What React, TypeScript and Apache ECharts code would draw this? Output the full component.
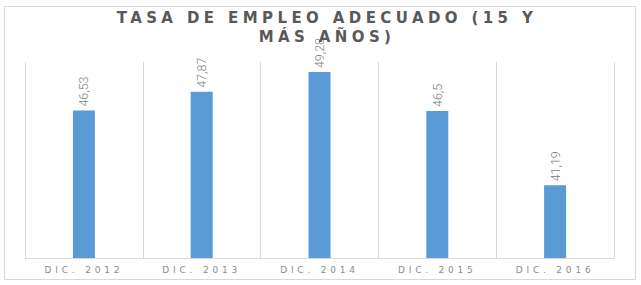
import React, { useEffect, useRef } from "react";
import * as echarts from "echarts";

const categories = ["DIC. 2012", "DIC. 2013", "DIC. 2014", "DIC. 2015", "DIC. 2016"];
const values = [46.53, 47.87, 49.28, 46.5, 41.19];
const titleText = "TASA DE EMPLEO ADECUADO (15 Y\nMÁS AÑOS)";

export default function App() {
  const ref = useRef<HTMLDivElement>(null);
  useEffect(() => {
    if (!ref.current) return;
    const chart = echarts.init(ref.current, null, { renderer: "svg" });
    chart.setOption({
      animation: false,
      backgroundColor: "#ffffff",
      title: {
        text: titleText,
        left: 327,
        top: 8,
        padding: 0,
        textAlign: "center",
        textStyle: {
          fontFamily: "'DejaVu Sans', sans-serif",
          fontWeight: "bold",
          fontSize: 15,
          color: "#595959",
          lineHeight: 19,
        },
      },
      graphic: [
        {
          type: "rect",
          shape: { x: 4.5, y: 6.5, width: 631, height: 273 },
          style: { fill: "none", stroke: "#d9d9d9", lineWidth: 1 },
          silent: true,
          z: -1,
        },
      ],
      grid: { left: 25, right: 27, top: 62, bottom: 27 },
      xAxis: {
        type: "category",
        data: categories,
        boundaryGap: true,
        axisLine: { show: true, lineStyle: { color: "#d9d9d9" } },
        axisTick: { show: false },
        splitLine: {
          show: true,
          showMinLine: true,
          showMaxLine: true,
          lineStyle: { color: "#d9d9d9" },
        },
        axisLabel: {
          fontFamily: "'DejaVu Sans', sans-serif",
          fontSize: 9,
          color: "#8c8c8c",
          margin: 7,
        },
      },
      yAxis: {
        type: "value",
        min: 36,
        max: 50,
        show: false,
        splitLine: { show: false },
      },
      series: [
        {
          type: "bar",
          data: values,
          barWidth: 22,
          itemStyle: { color: "#5b9bd5" },
          label: {
            show: true,
            position: "top",
            rotate: 90,
            align: "left",
            verticalAlign: "middle",
            distance: 2,
            offset: [2, 0],
            fontFamily: "Roboto, sans-serif",
            fontWeight: 300,
            fontSize: 12.5,
            color: "#7f7f7f",
            formatter: (p: any) => String(p.value).replace(".", ","),
          },
        },
      ],
    });
    const texts = ref.current.querySelectorAll("text");
    texts.forEach((t) => {
      const s = t.textContent || "";
      if (s.indexOf("TASA") >= 0 || s.indexOf("MÁS") >= 0) {
        (t as any).style.letterSpacing = "4.4px";
      } else if (s.indexOf("DIC.") === 0) {
        (t as any).style.letterSpacing = "3.8px";
      }
    });
    return () => chart.dispose();
  }, []);
  return (
    <div
      ref={ref}
      style={{ position: "fixed", left: 0, top: 0, width: 641, height: 285 }}
    />
  );
}
